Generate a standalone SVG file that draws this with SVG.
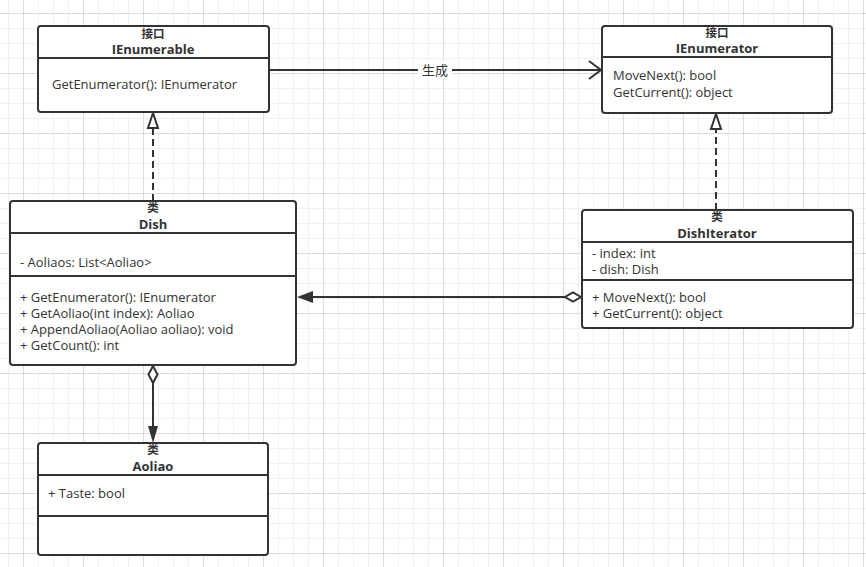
<svg xmlns="http://www.w3.org/2000/svg" width="866" height="567" viewBox="0 0 866 567">
<defs>
<pattern id="grid" patternUnits="userSpaceOnUse" x="23" y="13" width="60" height="60">
<rect x="15" y="0" width="1" height="60" fill="#f0f0f0"/>
<rect x="30" y="0" width="1" height="60" fill="#f0f0f0"/>
<rect x="45" y="0" width="1" height="60" fill="#f0f0f0"/>
<rect x="0" y="15" width="60" height="1" fill="#f0f0f0"/>
<rect x="0" y="30" width="60" height="1" fill="#f0f0f0"/>
<rect x="0" y="45" width="60" height="1" fill="#f0f0f0"/>
<rect x="0" y="0" width="1" height="60" fill="#dcdcdc"/>
<rect x="0" y="0" width="60" height="1" fill="#dcdcdc"/>
</pattern>
<style>
.box{fill:#fff;stroke:#333;stroke-width:2}
.sep{stroke:#333;stroke-width:2}
.t{font-family:"Open Sans","Noto Sans CJK SC",sans-serif;font-size:13px;fill:#333}
.h{font-family:"Open Sans","Noto Sans CJK SC",sans-serif;font-size:13px;font-weight:bold;fill:#333;text-anchor:middle}
.c{font-family:"Noto Sans CJK SC",sans-serif;font-size:11.5px;font-weight:bold;fill:#333;text-anchor:middle}
.ln{fill:none;stroke:#333;stroke-width:2}
.dash{fill:none;stroke:#333;stroke-width:2;stroke-dasharray:7 4}
</style>
</defs>
<rect width="866" height="567" fill="#fff"/>
<rect width="866" height="567" fill="url(#grid)"/>

<g id="connectors">
<g id="e-generate">
<line class="ln" x1="269" y1="70" x2="600" y2="70"/>
<polyline class="ln" points="589,61 601,70 589,79"/>
<rect x="418" y="61" width="34" height="18" fill="#fff"/>
<text class="t" x="435" y="75" text-anchor="middle">生成</text>
</g>
<g id="e-dish-ienumerable">
<line class="dash" x1="153" y1="201" x2="153" y2="128"/>
<polygon points="153,113 148,128 158,128" fill="#fff" stroke="#333" stroke-width="2"/>
</g>
<g id="e-iter-ienumerator">
<line class="dash" x1="716" y1="210" x2="716" y2="129"/>
<polygon points="716,114 711,129 721,129" fill="#fff" stroke="#333" stroke-width="2"/>
</g>
<g id="e-iter-dish">
<line class="ln" x1="312" y1="297" x2="565" y2="297"/>
<polygon points="297,297 313,291 313,303" fill="#333"/>
<polygon points="581,297 573,292.5 565,297 573,301.5" fill="#fff" stroke="#333" stroke-width="2"/>
</g>
<g id="e-dish-aoliao">
<line class="ln" x1="153" y1="383" x2="153" y2="428"/>
<polygon points="153,366 157.5,374.5 153,383 148.5,374.5" fill="#fff" stroke="#333" stroke-width="2"/>
<polygon points="153,443 148,426 158,426" fill="#333"/>
</g>
</g>

<g id="IEnumerable">
<rect class="box" x="38" y="26" width="231" height="86" rx="3"/>
<line class="sep" x1="38" y1="58" x2="269" y2="58"/>
<text class="c" x="153" y="38">接口</text>
<text class="h" x="153" y="54">IEnumerable</text>
<text class="t" x="52" y="89">GetEnumerator(): IEnumerator</text>
</g>

<g id="IEnumerator">
<rect class="box" x="602" y="26" width="230" height="87" rx="3"/>
<line class="sep" x1="602" y1="57" x2="832" y2="57"/>
<text class="c" x="717" y="37">接口</text>
<text class="h" x="717" y="53">IEnumerator</text>
<text class="t" x="613" y="80">MoveNext(): bool</text>
<text class="t" x="613" y="97">GetCurrent(): object</text>
</g>

<g id="Dish">
<rect class="box" x="10" y="201" width="286" height="164" rx="3"/>
<line class="sep" x1="10" y1="233" x2="296" y2="233"/>
<line class="sep" x1="10" y1="276" x2="296" y2="276"/>
<text class="c" x="153" y="212">类</text>
<text class="h" x="153" y="229">Dish</text>
<text class="t" x="20" y="267">- Aoliaos: List&lt;Aoliao&gt;</text>
<text class="t" x="20" y="302">+ GetEnumerator(): IEnumerator</text>
<text class="t" x="20" y="318">+ GetAoliao(int index): Aoliao</text>
<text class="t" x="20" y="334">+ AppendAoliao(Aoliao aoliao): void</text>
<text class="t" x="20" y="350">+ GetCount(): int</text>
</g>

<g id="DishIterator">
<rect class="box" x="582" y="210" width="271" height="118" rx="3"/>
<line class="sep" x1="582" y1="242" x2="853" y2="242"/>
<line class="sep" x1="582" y1="280" x2="853" y2="280"/>
<text class="c" x="717" y="221">类</text>
<text class="h" x="717" y="238">DishIterator</text>
<text class="t" x="592" y="258">- index: int</text>
<text class="t" x="592" y="274">- dish: Dish</text>
<text class="t" x="592" y="302">+ MoveNext(): bool</text>
<text class="t" x="592" y="318">+ GetCurrent(): object</text>
</g>

<g id="Aoliao">
<rect class="box" x="38" y="443" width="230" height="112" rx="3"/>
<line class="sep" x1="38" y1="475" x2="268" y2="475"/>
<line class="sep" x1="38" y1="516" x2="268" y2="516"/>
<text class="c" x="153" y="454">类</text>
<text class="h" x="153" y="471">Aoliao</text>
<text class="t" x="48" y="498">+ Taste: bool</text>
</g>
</svg>
